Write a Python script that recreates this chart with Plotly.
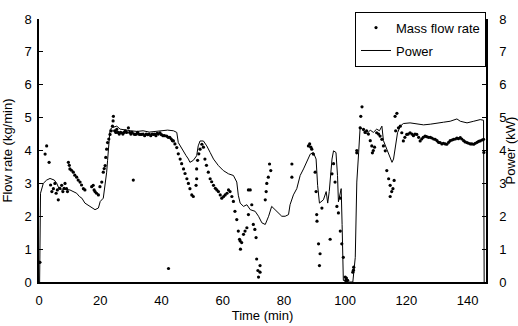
import plotly.graph_objects as go

# Power line (kW)
power_t = [0.2, 0.5, 1.4, 2.5, 3.6, 5.0, 5.8, 6.5, 7.4, 8.5, 10.1, 11.2, 12.3, 13.2, 14.0, 15.0, 16.7, 17.5,
           18.3, 19.4, 20.0, 21.0, 21.6, 22.1, 22.4, 22.8, 23.2, 24.0, 25.4, 26.5, 28.0, 30.0, 32.0, 34.0,
           36.0, 38.0, 40.0, 42.0, 43.9, 45.0, 45.5, 46.3, 47.2, 48.0, 48.8, 49.3, 50.4, 51.5, 52.0, 52.6,
           53.7, 54.8, 55.9, 57.0, 58.6, 60.2, 61.9, 63.5, 64.6, 65.1, 65.7, 66.8, 67.9, 69.0, 70.6, 71.7,
           72.8, 73.9, 75.0, 76.0, 77.1, 78.2, 79.3, 80.4, 81.5, 82.0, 83.1, 84.2, 85.3, 86.4, 87.5, 88.6,
           89.6, 90.5, 91.0, 91.6, 92.9, 93.8, 94.3, 94.8, 95.7, 96.2, 97.0, 97.5, 97.8, 98.4, 98.7, 99.0,
           99.4, 100.5, 102.5, 103.3, 103.8, 104.4, 104.9, 106.0, 107.0, 108.2, 109.2, 110.3, 111.2, 112.0,
           112.5, 113.6, 114.7, 115.3, 115.8, 116.3, 117.1, 118.0, 119.0, 121.2, 123.4, 125.6, 127.8, 129.9,
           132.1, 134.3, 136.5, 137.6, 139.8, 142.0, 144.1, 145.2, 145.4]
power_v = [0.0, 2.7, 3.0, 3.1, 3.15, 3.1, 3.0, 2.85, 2.8, 2.82, 2.8, 2.75, 2.7, 2.6, 2.55, 2.4, 2.3, 2.25,
           2.2, 2.25, 2.45, 2.55, 2.94, 3.34, 3.7, 4.3, 4.64, 4.7, 4.74, 4.65, 4.62, 4.6, 4.58, 4.6,
           4.56, 4.58, 4.6, 4.62, 4.6, 4.55, 4.24, 4.1, 3.98, 3.85, 3.74, 3.64, 3.7, 3.84, 4.14, 4.29,
           4.29, 4.14, 3.94, 3.74, 3.54, 3.39, 3.29, 3.24, 3.04, 2.64, 2.4, 2.3, 2.35, 2.2, 2.15, 2.0,
           1.8, 1.75, 2.0, 2.3, 2.2, 2.1, 2.0, 2.0, 2.05, 2.35, 2.65, 2.84, 3.24, 3.44, 3.64, 3.89,
           3.94, 3.74, 2.94, 2.4, 2.5, 2.75, 2.4, 2.75, 3.74, 3.99, 3.94, 3.24, 2.44, 2.75, 2.84, 1.75,
           0.05, 0.0, 0.0, 0.75, 3.04, 3.93, 4.72, 4.6, 4.5, 4.62, 4.55, 4.65, 4.6, 4.74,
           4.3, 4.04, 3.74, 3.64, 3.74, 4.04, 4.54, 4.74, 4.82, 4.84, 4.8, 4.78, 4.8, 4.84,
           4.86, 4.89, 4.96, 4.89, 4.84, 4.89, 4.94, 4.92, 0.0]

# Mass flow rate points (kg/min)
flow_t = [0.3, 2.0, 2.5, 3.3, 3.8, 4.2, 4.7, 5.2, 5.6, 6.0, 6.3, 6.8, 7.4, 7.8, 8.2, 8.5, 9.0, 9.3,
          9.6, 9.9, 10.1, 10.6, 11.2, 11.7, 12.3, 12.8, 13.4, 13.9, 14.5, 15.0,
          17.2, 17.7, 18.0, 18.3, 18.8, 19.4, 19.9, 20.5, 21.0, 21.3, 21.6, 21.8, 22.1, 22.4, 22.8, 23.2,
          23.6, 24.0, 24.2, 24.3,
          24.7, 25.1, 25.4, 25.8, 26.2, 26.6, 27.0, 27.4, 27.8, 28.2, 28.6, 29.2, 29.6, 30.0, 30.4, 30.8,
          31.0, 31.4, 31.8, 32.2, 32.6, 33.0, 33.5, 34.0, 34.5, 35.0, 35.5, 36.0, 36.5, 37.0, 37.4, 37.8,
          38.2, 38.6, 39.0, 39.5, 40.0, 40.5, 41.0, 41.7, 42.3, 42.2, 42.7, 43.2, 43.6, 43.9, 44.4, 45.0,
          45.5, 46.1, 46.6, 47.2, 47.7, 48.3, 48.8, 49.3, 49.9, 50.4,
          51.3, 51.5, 51.5, 51.8, 52.2, 52.6, 53.2, 53.7, 54.2, 54.7, 55.3, 55.9, 56.4, 57.0, 57.6, 58.1,
          58.6, 59.2, 59.7, 60.3, 60.8, 61.4, 61.9, 62.4, 63.0, 63.5, 64.0, 64.6, 65.1, 65.5, 65.7, 65.8,
          66.2, 66.8, 67.3, 67.9, 68.4, 68.4,
          69.0, 69.5, 70.0, 70.5, 70.9, 71.1, 71.5, 71.7, 72.2, 72.2,
          73.9, 74.2, 74.4, 74.9, 75.3, 75.7, 82.6, 82.6,
          88.0, 88.4, 88.8, 89.1, 89.6, 90.2, 90.5, 90.7, 90.8, 91.3, 91.6, 91.8, 92.4,
          95.1, 95.7, 96.2, 96.7, 97.3, 97.8, 98.4, 98.4, 98.9, 99.4, 100.0, 100.2, 100.4, 100.5, 100.8,
          102.5, 102.7, 102.8,
          103.8, 103.8, 104.9, 105.1, 105.5, 106.0, 106.5, 107.0, 107.6, 108.2, 108.7, 108.9, 109.2, 109.6,
          110.3, 110.9, 111.4, 112.0, 112.5, 113.1, 113.6, 114.2, 114.7, 114.7, 115.2, 115.6, 116.0,
          116.3, 116.9, 116.5, 117.4, 118.0, 118.5, 119.0, 119.5, 120.1, 120.6, 121.2, 121.8, 122.3, 122.8,
          123.4, 124.0, 124.5, 125.0, 125.5, 126.1, 126.6, 127.2, 127.8, 128.3, 128.9, 129.4, 130.0, 130.5,
          131.0, 131.6, 132.1, 132.7, 133.2, 133.8, 134.3, 134.9, 135.4, 136.0, 136.5, 137.0, 137.6, 138.1,
          138.7, 139.2, 139.8, 140.3, 140.9, 141.4, 142.0, 142.5, 143.1, 143.6, 144.1, 144.7, 145.2, 145.3]
flow_v = [0.6, 3.89, 4.14, 3.64, 2.95, 2.75, 2.84, 3.0, 2.7, 2.8, 2.5, 2.85, 2.94, 2.75, 2.85, 3.0, 2.84, 2.75,
          3.64, 3.55, 3.44, 3.4, 3.34, 3.25, 3.19, 3.1, 3.04, 2.95, 2.84, 2.8,
          2.9, 2.94, 2.8, 2.75, 2.7, 2.65, 2.9, 3.04, 3.34, 3.45, 3.54, 3.79, 4.04, 4.24, 4.35, 4.49,
          4.6, 4.74, 4.9, 5.04,
          4.6, 4.55, 4.64, 4.55, 4.5, 4.55, 4.54, 4.5, 4.55, 4.6, 4.55, 4.69, 4.55, 4.5, 4.55, 3.1,
          4.5, 4.49, 4.5, 4.55, 4.5, 4.49, 4.49, 4.5, 4.45, 4.5, 4.48, 4.5, 4.45, 4.5, 4.49, 4.5,
          4.45, 4.52, 4.5, 4.54, 4.48, 4.45, 4.45, 4.44, 0.41, 4.4, 4.4, 4.35, 4.3, 4.29, 4.2, 4.09,
          3.9, 3.74, 3.6, 3.44, 3.3, 3.14, 3.0, 2.84, 2.65, 2.6,
          2.94, 3.14, 3.44, 3.7, 3.9, 4.04, 4.19, 4.1, 3.74, 3.55, 3.34, 3.14, 3.05, 2.94, 2.85, 2.8,
          2.75, 2.65, 2.55, 2.6, 2.65, 2.7, 2.8, 2.75, 2.6, 2.45, 2.15, 1.9, 1.55, 1.3, 1.25, 1.0,
          1.2, 1.45, 1.55, 1.65, 2.8, 2.05,
          2.8, 2.35, 1.75, 1.6, 1.35, 0.7, 0.35, 0.15, 0.5, 0.3,
          2.5, 2.75, 3.0, 3.19, 3.59, 3.39, 3.59, 3.19,
          4.14, 4.2, 4.1, 4.04, 3.89, 3.34, 2.75, 2.05, 1.85, 1.16, 0.5, 0.86, 2.25,
          1.3, 3.29, 3.6, 3.04, 2.3, 2.1, 2.55, 1.55, 1.16, 0.75, 0.15, 0.05, 0.12, 0.05, 0.05,
          0.3, 0.36, 0.45,
          3.93, 4.0, 4.69, 5.04, 5.33, 4.64, 4.55, 4.6, 4.5, 4.3, 4.14, 3.93, 4.0, 4.1,
          4.54, 4.5, 4.44, 4.34, 4.14, 3.99, 3.39, 3.14, 2.94, 2.6, 2.75, 2.84, 3.09,
          5.04, 5.13, 4.6, 4.69, 4.74, 4.54, 4.29, 4.4, 4.49, 4.5, 4.54, 4.5, 4.45, 4.5,
          4.49, 4.4, 4.29, 4.35, 4.4, 4.44, 4.42, 4.4, 4.4, 4.38, 4.35, 4.34, 4.3, 4.25,
          4.24, 4.2, 4.22, 4.2, 4.19, 4.25, 4.3, 4.32, 4.34, 4.35, 4.38, 4.36, 4.39, 4.35,
          4.3, 4.26, 4.24, 4.22, 4.2, 4.2, 4.19, 4.22, 4.25, 4.28, 4.29, 4.32, 4.34, 3.94]

y_ticks = [0, 1, 2, 3, 4, 5, 6, 7, 8]
x_ticks = [0, 20, 40, 60, 80, 100, 120, 140]

FONT = "Liberation Sans, Arial, sans-serif"
TICKFONT = dict(family=FONT, size=13, color="black")
TITLEFONT = dict(family=FONT, size=13, color="black")

fig = go.Figure()
fig.add_trace(go.Scatter(
    x=flow_t, y=flow_v, mode="markers", name="Mass flow rate",
    marker=dict(color="black", size=3.2), legendgroup="a"))
fig.add_trace(go.Scatter(
    x=power_t, y=power_v, mode="lines", name="Power", yaxis="y2",
    line=dict(color="black", width=1), legendgroup="b"))

fig.update_layout(
    width=518, height=326,
    margin=dict(l=39, r=32, t=14, b=44),
    paper_bgcolor="white", plot_bgcolor="white",
    showlegend=True,
    legend=dict(x=1, y=1.028, xanchor="right", yanchor="top", bordercolor="black", borderwidth=1,
                bgcolor="white", font=dict(family=FONT, size=13, color="black"),
                tracegroupgap=3, itemwidth=30),
    xaxis=dict(range=[0, 146], tickvals=x_ticks, ticks="", ticklabelstandoff=6,
               showgrid=False, zeroline=False, showline=True, linecolor="black", linewidth=1.5,
               tickfont=TICKFONT, automargin=False,
               title=dict(text="Time (min)", font=TITLEFONT, standoff=3)),
    yaxis=dict(range=[0, 8], tickvals=y_ticks, ticks="inside", ticklen=4, tickcolor="black",
               ticklabelstandoff=3,
               showgrid=False, zeroline=False, showline=True, linecolor="black", linewidth=1.5,
               tickfont=TICKFONT, automargin=False,
               title=dict(text="Flow rate (kg/min)", font=TITLEFONT, standoff=9)),
    yaxis2=dict(range=[0, 8], tickvals=y_ticks, overlaying="y", side="right",
                ticks="inside", ticklen=4, tickcolor="black", ticklabelstandoff=9,
                showgrid=False, zeroline=False, showline=True, linecolor="black", linewidth=1.5,
                tickfont=TICKFONT, automargin=False,
                title=dict(text="Power (kW)", font=TITLEFONT, standoff=2)),
)

fig.write_html("out.html")
